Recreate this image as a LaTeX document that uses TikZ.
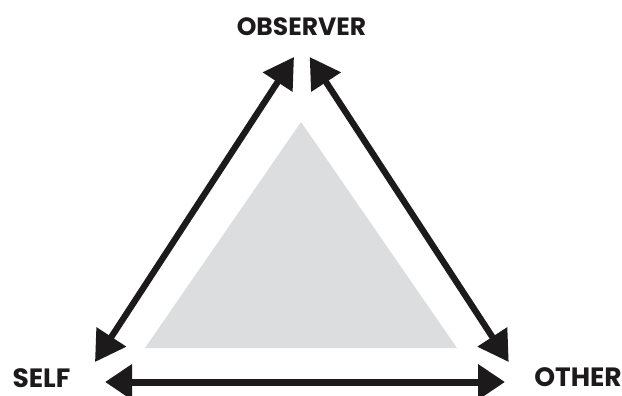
\documentclass[tikz,border=0pt]{standalone}
\usepackage{fontspec}
\setmainfont{Poppins}[BoldFont={Poppins Bold}]
\usetikzlibrary{arrows.meta}
\definecolor{ink}{HTML}{1C1A1A}
\definecolor{grayfill}{HTML}{DCDDDF}
\tikzset{
  lbl/.style={font=\bfseries\fontsize{25}{25}\selectfont, text=ink, inner sep=0pt, text depth=0pt, anchor=center},
  biglbl/.style={lbl, font=\bfseries\fontsize{26.5}{26.5}\selectfont},
  link/.style={draw=ink, line width=6.3pt, {Triangle[length=30pt,width=34pt]}-{Triangle[length=30pt,width=34pt]}},
  flatlink/.style={draw=ink, line width=7pt, {Triangle[length=27pt,width=34pt]}-{Triangle[length=27pt,width=34pt]}}
}
\begin{document}
\begin{tikzpicture}[x=1pt,y=-1pt]
  \useasboundingbox (0,0) rectangle (622,396);
  % central grey triangle
  \fill[grayfill] (145,348) -- (301,122) -- (457,348) -- cycle;
  % labels
  \node[lbl] (obs) at (301.5,26.5) {OBSERVER};
  \node[biglbl] (self) at (41.5,378.5) {SELF};
  \node[biglbl] (other) at (578,377.5) {OTHER};
  % arrow end points
  \coordinate (obsL) at (294,57);
  \coordinate (obsR) at (309.7,57);
  \coordinate (selfT) at (95,362);
  \coordinate (otherT) at (508.7,362);
  \coordinate (selfB) at (105,382);
  \coordinate (otherB) at (505,382);
  % connectors
  \draw[link] (selfT) -- (obsL);
  \draw[link] (obsR) -- (otherT);
  \draw[flatlink] (selfB) -- (otherB);
\end{tikzpicture}
\end{document}
